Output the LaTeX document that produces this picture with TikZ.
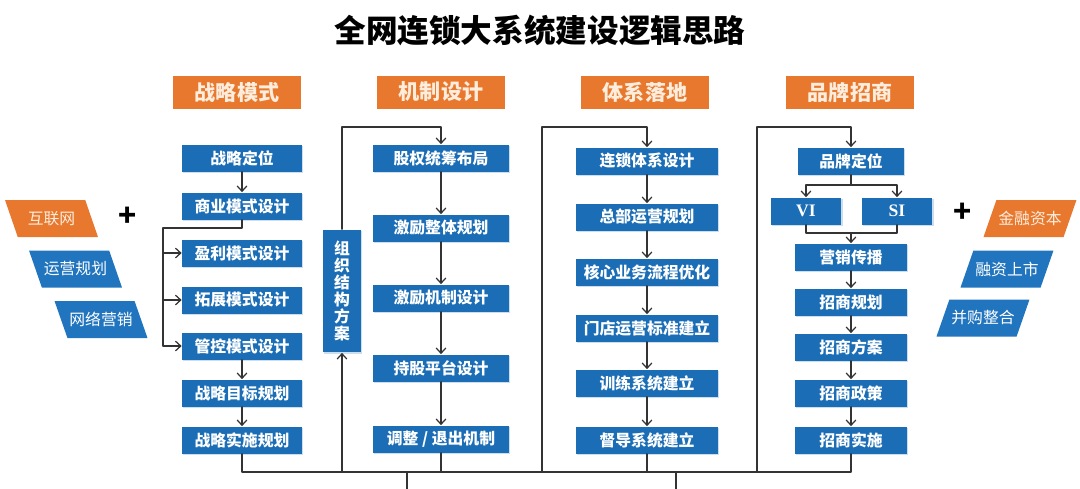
\documentclass[tikz,border=0pt]{standalone}
\usepackage{fontspec}
\setmainfont{Noto Sans CJK SC}
\newfontfamily\latinfont{Liberation Serif}
\usepackage{pgf,tikz}
\usetikzlibrary{arrows.meta,shapes.geometric,shadows}
\definecolor{boxblue}{rgb}{0.10588235294117647,0.42745098039215684,0.7098039215686275}
\definecolor{slantblue}{rgb}{0.12941176470588237,0.4588235294117647,0.7450980392156863}
\definecolor{headorange}{rgb}{0.9137254901960784,0.47058823529411764,0.1843137254901961}
\definecolor{headtext}{rgb}{0.9882352941176471,0.9294117647058824,0.8627450980392157}
\definecolor{linegray}{rgb}{0.2,0.2,0.2}
\begin{document}
\begin{tikzpicture}[line cap=round,line join=round,>={Straight Barb[length=3pt,width=5.5pt]},x=0.02cm,y=-0.02cm,
	stepbox/.style={fill=boxblue,text=white,font=\fontsize{9}{10}\selectfont\bfseries,minimum height=0.54cm,inner sep=0pt,drop shadow={shadow xshift=0.7pt,shadow yshift=-0.7pt,fill=boxblue!45,opacity=0.5}},
	headbox/.style={fill=headorange,text=headtext,font=\fontsize{12}{13}\selectfont\bfseries,minimum width=2.56cm,minimum height=0.66cm,inner sep=0pt},
	slantbox/.style={trapezium,trapezium stretches body,minimum height=0.74cm,minimum width=1.86cm,inner xsep=0pt,text=white,font=\fontsize{9}{10}\selectfont},
	leanleft/.style={slantbox,trapezium left angle=116,trapezium right angle=64},
	leanright/.style={slantbox,trapezium left angle=64,trapezium right angle=116},
	plussign/.style={font=\fontsize{17}{17}\selectfont\bfseries,inner sep=0pt},
	link/.style={draw=linegray,line width=0.7pt}]
	\useasboundingbox (0,0) rectangle (1080,488);
	\node[font=\fontsize{18}{20}\selectfont\bfseries] (title) at (540,30) {全网连锁大系统建设逻辑思路};
	\node[headbox] (h1) at (237,92) {战略模式};
	\node[headbox] (h2) at (441,92) {机制设计};
	\node[headbox] (h3) at (645,92) {体系落地};
	\node[headbox] (h4) at (850,92) {品牌招商};
	\node[stepbox,minimum width=2.4cm] (s1) at (242,158) {战略定位};
	\node[stepbox,minimum width=2.4cm] (s2) at (242,206) {商业模式设计};
	\node[stepbox,minimum width=2.4cm] (s3) at (242,253) {盈利模式设计};
	\node[stepbox,minimum width=2.4cm] (s4) at (242,300) {拓展模式设计};
	\node[stepbox,minimum width=2.4cm] (s5) at (242,346) {管控模式设计};
	\node[stepbox,minimum width=2.4cm] (s6) at (242,393) {战略目标规划};
	\node[stepbox,minimum width=2.4cm] (s7) at (242,440) {战略实施规划};
	\node[stepbox,minimum width=0.76cm,minimum height=2.46cm,align=center,font=\fontsize{9}{9.6}\selectfont\bfseries] (org) at (342,291) {组\\织\\结\\构\\方\\案};
	\node[stepbox,minimum width=2.72cm] (m1) at (441,158) {股权统筹布局};
	\node[stepbox,minimum width=2.72cm] (m2) at (441,228) {激励整体规划};
	\node[stepbox,minimum width=2.72cm] (m3) at (441,298) {激励机制设计};
	\node[stepbox,minimum width=2.72cm] (m4) at (441,368) {持股平台设计};
	\node[stepbox,minimum width=2.72cm] (m5) at (441,439) {调整 / 退出机制};
	\node[stepbox,minimum width=2.84cm] (t1) at (647,161) {连锁体系设计};
	\node[stepbox,minimum width=2.84cm] (t2) at (647,217) {总部运营规划};
	\node[stepbox,minimum width=2.84cm] (t3) at (647,272) {核心业务流程优化};
	\node[stepbox,minimum width=2.84cm] (t4) at (647,328) {门店运营标准建立};
	\node[stepbox,minimum width=2.84cm] (t5) at (647,383) {训练系统建立};
	\node[stepbox,minimum width=2.84cm] (t6) at (647,440) {督导系统建立};
	\node[stepbox,minimum width=2.12cm] (b1) at (851,161) {品牌定位};
	\node[stepbox,minimum width=1.42cm,font=\fontsize{10}{11}\latinfont\bfseries] (vi) at (806,211) {VI};
	\node[stepbox,minimum width=1.42cm,font=\fontsize{10}{11}\latinfont\bfseries] (si) at (897,211) {SI};
	\node[stepbox,minimum width=2.24cm] (b3) at (851,257) {营销传播};
	\node[stepbox,minimum width=2.24cm] (b4) at (851,302) {招商规划};
	\node[stepbox,minimum width=2.24cm] (b5) at (851,347) {招商方案};
	\node[stepbox,minimum width=2.24cm] (b6) at (851,393) {招商政策};
	\node[stepbox,minimum width=2.24cm] (b7) at (851,440) {招商实施};
	\node[leanleft,fill=headorange,text=headtext] (inet) at (51.5,218.5) {互联网};
	\node[leanleft,fill=slantblue] (ops) at (75.5,269) {运营规划};
	\node[leanleft,fill=slantblue] (netmk) at (101,319.5) {网络营销};
	\node[leanright,fill=headorange,text=headtext] (fin) at (1030,218.5) {金融资本};
	\node[leanright,fill=slantblue] (ipo) at (1007,269) {融资上市};
	\node[leanright,fill=slantblue] (mna) at (983,318) {并购整合};
	\node[plussign] (plusl) at (128,217) {+};
	\node[plussign] (plusr) at (963,213) {+};
	\coordinate (fork1) at (163,228);
	\coordinate (busl) at (242,472);
	\coordinate (busr) at (851,472);
	\coordinate (top2) at (441,127);
	\coordinate (top3) at (647,127);
	\coordinate (foot3) at (542,472);
	\coordinate (top4) at (851,127);
	\coordinate (foot4) at (757,472);
	\coordinate (vfork) at (851,185);
	\coordinate (vjoin) at (851,233);
	\coordinate (out1) at (407,495);
	\coordinate (out2) at (676,495);
	\draw[link,->] (s1) -- (s2);
	\draw[link] (s2.south) |- (fork1) -- (fork1 |- s5.west);
	\draw[link,->] (fork1 |- s3.west) -- (s3.west);
	\draw[link,->] (fork1 |- s4.west) -- (s4.west);
	\draw[link,->] (fork1 |- s5.west) -- (s5.west);
	\draw[link,->] (s5) -- (s6);
	\draw[link,->] (s6) -- (s7);
	\draw[link] (s7.south) -- (busl) -- (busr) -- (b7.south);
	\draw[link,->] (org.south |- busl) -- (org.south);
	\draw[link,->] (org.north) |- (top2) -- (m1.north);
	\draw[link,->] (m1) -- (m2);
	\draw[link,->] (m2) -- (m3);
	\draw[link,->] (m3) -- (m4);
	\draw[link,->] (m4) -- (m5);
	\draw[link] (m5.south) -- (m5.south |- busl);
	\draw[link,->] (foot3) |- (top3) -- (t1.north);
	\draw[link,->] (t1) -- (t2);
	\draw[link,->] (t2) -- (t3);
	\draw[link,->] (t3) -- (t4);
	\draw[link,->] (t4) -- (t5);
	\draw[link,->] (t5) -- (t6);
	\draw[link] (t6.south) -- (t6.south |- busl);
	\draw[link,->] (foot4) |- (top4) -- (b1.north);
	\draw[link] (b1.south) -- (vfork);
	\draw[link,->] (vfork) -| (vi.north);
	\draw[link,->] (vfork) -| (si.north);
	\draw[link] (vi.south) |- (vjoin);
	\draw[link] (si.south) |- (vjoin);
	\draw[link,->] (vjoin) -- (b3.north);
	\draw[link,->] (b3) -- (b4);
	\draw[link,->] (b4) -- (b5);
	\draw[link,->] (b5) -- (b6);
	\draw[link,->] (b6) -- (b7);
	\draw[link] (out1 |- busl) -- (out1);
	\draw[link] (out2 |- busl) -- (out2);
\end{tikzpicture}
\end{document}
